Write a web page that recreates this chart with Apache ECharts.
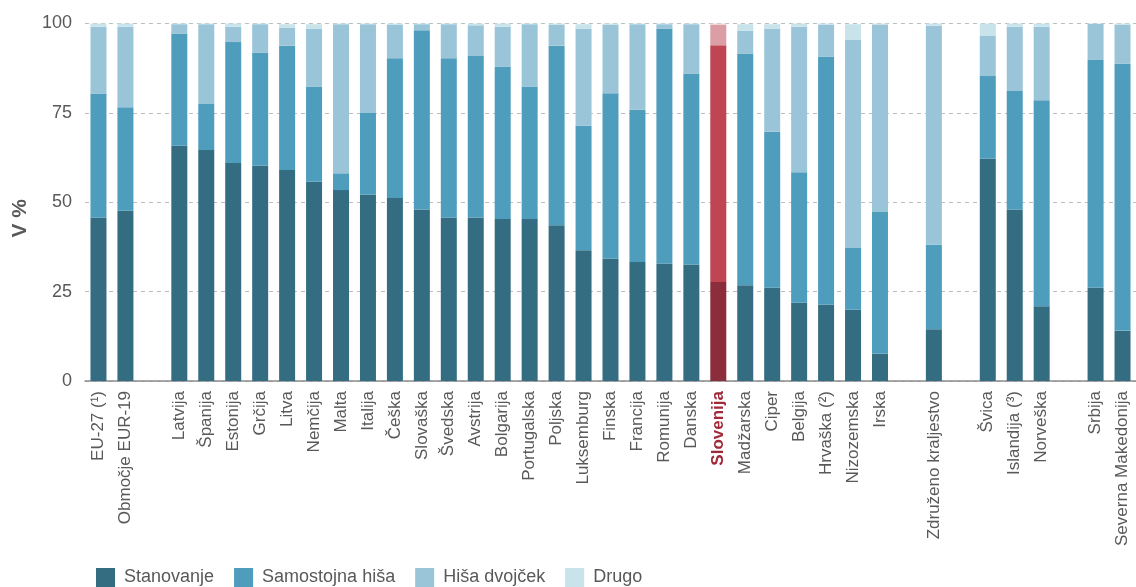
<!DOCTYPE html>
<html><head><meta charset="utf-8">
<script src="https://cdn.jsdelivr.net/npm/echarts@6/dist/echarts.min.js"></script>
<style>html,body{margin:0;padding:0;background:#fff}#c{width:1136px;height:587px}</style>
</head><body><div id="c"></div>
<script>
const categories = ['EU-27 (¹)','Območje EUR-19',' ','Latvija','Španija','Estonija','Grčija','Litva','Nemčija','Malta','Italija','Češka','Slovaška','Švedska','Avstrija','Bolgarija','Portugalska','Poljska','Luksemburg','Finska','Francija','Romunija','Danska','Slovenija','Madžarska','Ciper','Belgija','Hrvaška (²)','Nizozemska','Irska','  ','Združeno kraljestvo','   ','Švica','Islandija (³)','Norveška','    ','Srbija','Severna Makedonija'];
const stanovanje = [45.7,47.6,null,65.8,64.6,61.0,60.2,59.0,55.7,53.4,52.1,51.2,48.0,45.7,45.7,45.3,45.3,43.6,36.6,34.3,33.3,32.9,32.6,27.7,26.8,26.1,21.9,21.3,19.9,7.6,null,14.5,null,62.2,48.0,20.9,null,26.1,14.1];
const samostojna = [34.7,29.0,null,31.3,12.9,33.8,31.7,34.8,26.7,4.7,22.9,39.1,50.1,44.6,45.2,42.7,37.1,50.2,34.8,46.2,42.6,65.6,53.4,66.2,64.8,43.6,36.5,69.5,17.3,39.7,null,23.6,null,23.1,33.1,57.6,null,63.8,74.6];
const dvojcek = [18.7,22.5,null,2.7,22.3,4.3,7.9,5.0,16.1,41.7,24.8,9.3,1.7,9.5,8.6,11.1,17.4,5.8,27.1,19.1,23.9,1.3,13.8,5.7,6.4,28.8,40.7,8.9,58.2,52.4,null,61.3,null,11.2,18.0,20.6,null,10.0,11.0];
const drugo = [0.9,0.9,null,0.2,0.2,0.9,0.2,1.0,1.3,0.2,0.2,0.4,0.2,0.2,0.5,0.9,0.2,0.4,1.3,0.4,0.2,0.2,0.2,0.4,1.8,1.3,0.9,0.3,4.4,0.3,null,0.6,null,3.5,0.9,0.9,null,0.1,0.3];
const seriesNames = ['Stanovanje','Samostojna hiša','Hiša dvojček','Drugo'];
const highlight = 'Slovenija';

const baseColors = ['#346d82','#4f9dbd','#9ac5d8','#c8e3ea'];
const hiColors = ['#8b2d3b','#bf4552','#dc9ea5','#efd2d5'];
const FONT = "'Liberation Sans Narrow','Arial Narrow','Liberation Sans',sans-serif";
const TXT = '#595959';

const allData = [stanovanje, samostojna, dvojcek, drugo];
const series = allData.map((arr, si) => ({
  name: seriesNames[si],
  type: 'bar',
  stack: 'total',
  barWidth: 16,
  itemStyle: { color: baseColors[si] },
  data: arr.map((v, i) => categories[i] === highlight ? { value: v, itemStyle: { color: hiColors[si] } } : v)
}));

const chart = echarts.init(document.getElementById('c'));
chart.setOption({
  animation: false,
  textStyle: { fontFamily: FONT },
  grid: { left: 85, right: -10, top: 23.5, bottom: 206 },
  legend: {
    left: 91, top: 563, itemWidth: 19, itemHeight: 19, itemGap: 20,
    icon: 'rect',
    textStyle: { fontSize: 18, color: TXT, fontFamily: FONT, padding: [0, 0, 0, 4] },
    data: seriesNames
  },
  xAxis: {
    type: 'category',
    data: categories,
    axisTick: { show: false },
    axisLine: { lineStyle: { color: '#8c8c8c', width: 1.5 } },
    axisLabel: {
      interval: 0, rotate: 90, margin: 10, fontSize: 17, color: TXT, fontFamily: FONT,
      formatter: v => v === highlight ? '{hi|' + v + '}' : v,
      rich: { hi: { color: '#a02a3a', fontWeight: 'bold', fontSize: 17, fontFamily: FONT } }
    }
  },
  yAxis: {
    type: 'value', min: 0, max: 100, interval: 25,
    name: 'V %', nameLocation: 'middle', nameGap: 49, nameRotate: 90,
    nameTextStyle: { fontSize: 21, fontWeight: 'bold', color: TXT, fontFamily: FONT, padding: [0, 32, 0, 0] },
    axisLabel: { fontSize: 18, color: TXT, margin: 13, fontFamily: FONT },
    axisLine: { show: false },
    axisTick: { show: false },
    splitLine: { lineStyle: { type: [4, 4], color: '#bdbdbd' } }
  },
  series: series
});
</script></body></html>
